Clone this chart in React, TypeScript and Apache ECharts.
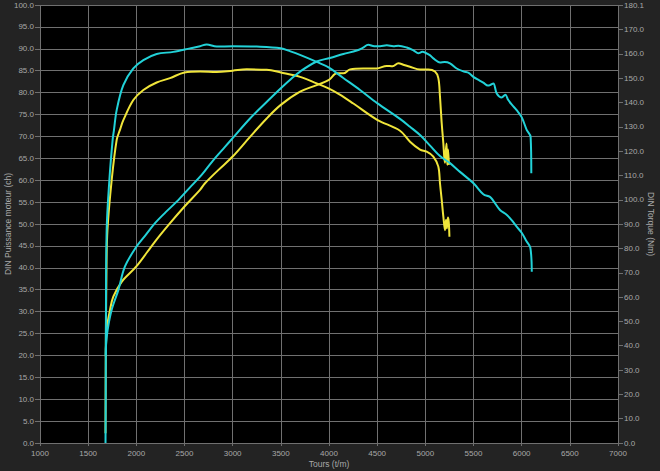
import React, { useEffect, useRef } from "react";
import * as echarts from "echarts";

// rpm values and readings (power in ch on left axis, torque in left-axis-equivalent units converted to Nm)
const cyanPower: [number, number][] = [
  [1682, 20], [1686, 22.5], [1702, 25.8], [1744, 30.4], [1813, 34.9], [1882, 40.3], [2000, 44.8],
  [2100, 47.6], [2194, 50.2], [2300, 52.6], [2419, 55.1], [2550, 58.2], [2678, 61.2],
  [2800, 64.6], [2920, 67.6], [3000, 69.6], [3180, 74.1], [3350, 77.8], [3500, 81],
  [3600, 83], [3700, 84.8], [3872, 87.1], [4010, 87.9], [4149, 88.8], [4288, 89.6],
  [4350, 90.2], [4408, 90.9], [4470, 90.6], [4530, 90.6], [4600, 90.8], [4668, 90.6],
  [4720, 90.7], [4807, 90.3], [4880, 89.6], [4927, 89.0], [4970, 89.3], [5000, 89.1],
  [5050, 88.5], [5083, 87.8], [5152, 86.9], [5200, 87.0], [5256, 86.7], [5325, 85.5],
  [5400, 84.8], [5450, 84.5], [5498, 83.6], [5560, 82.8], [5602, 82.3], [5650, 81.6],
  [5671, 81.7], [5706, 82.1], [5741, 79.8], [5793, 78.9], [5830, 79.5], [5861, 78.3],
  [5900, 77.2], [5948, 76.0], [6000, 74.4], [6052, 71.5], [6093, 69.9], [6100, 61.6]
];

const yellowPower: [number, number][] = [
  [1684, 19.7], [1692, 25.8], [1727, 30.4], [1761, 33.4], [1848, 36.8], [2000, 40.3],
  [2194, 46], [2350, 50.2], [2500, 54], [2661, 57.8], [2713, 59.3], [2850, 62.3],
  [3000, 65.4], [3180, 69.9], [3353, 74.1], [3500, 77.2], [3700, 80.2], [3872, 81.7],
  [4000, 82.9], [4080, 84.4], [4150, 84.4], [4218, 85.3], [4356, 85.5], [4495, 85.5],
  [4599, 86.1], [4660, 86.0], [4720, 86.7], [4780, 86.3], [4841, 85.9], [4945, 85.3],
  [5031, 85.3], [5100, 84.8], [5135, 83.3], [5152, 79.1], [5170, 73.0], [5187, 68.4],
  [5196, 65.4], [5204, 64.0], [5212, 66.5], [5220, 68.4], [5228, 63.5], [5236, 67.0],
  [5245, 63.5]
];

const cyanTorqueEq: [number, number][] = [
  [1680, 0], [1682, 10], [1684, 25.8], [1692, 48.6], [1720, 60], [1754, 69.2],
  [1768, 71.5], [1796, 76], [1865, 81.7], [1969, 85.5], [2073, 87.4], [2211, 88.8],
  [2384, 89.3], [2557, 90.1], [2661, 90.6], [2730, 91.0], [2834, 90.5], [3000, 90.6],
  [3250, 90.5], [3500, 90.1], [3600, 89.4], [3699, 88.6], [3872, 87], [4000, 85.7],
  [4145, 83.4], [4322, 80.6], [4500, 77.6], [4737, 74.0], [4841, 72.2], [4945, 70.3],
  [5049, 67.9], [5152, 65.5], [5256, 63.9], [5360, 61.9], [5500, 59.3], [5602, 56.8],
  [5671, 56.2], [5706, 55.3], [5775, 53.2], [5844, 52.1], [5896, 50.9], [5948, 49.4],
  [6000, 48.0], [6052, 46.0], [6090, 44.6], [6105, 39.1]
];

const yellowTorqueEq: [number, number][] = [
  [1680, 2.2], [1683, 20], [1690, 40], [1700, 48.6], [1744, 60], [1796, 69.2],
  [1830, 71.5], [1865, 73.7], [1969, 78.3], [2073, 80.6], [2211, 82.3], [2350, 83.3],
  [2500, 84.6], [2661, 84.8], [2834, 84.7], [3000, 85.0], [3146, 85.3], [3353, 85.2],
  [3500, 84.6], [3700, 83.6], [3872, 82.1], [4000, 80.9], [4108, 79.6], [4253, 77.5],
  [4500, 73.8], [4737, 71.3], [4841, 68.8], [4945, 67.0], [5014, 66.5], [5083, 65.4],
  [5135, 63.1], [5152, 59.3], [5170, 55.5], [5187, 51.7], [5204, 48.6], [5214, 50.9],
  [5224, 49.0], [5234, 51.5], [5243, 50.5], [5250, 47.1]
];

const NM_PER_UNIT = 180.1 / 100;
const toNm = (arr: [number, number][]) => arr.map(([r, v]) => [r, +(v * NM_PER_UNIT).toFixed(2)]);

const CYAN = "#22d2d8";
const YELLOW = "#f0e53a";
const LABEL = "#a8a8a8";
const GRIDLINE = "#707070";
const FONT = "Liberation Sans, Arial, sans-serif";

export default function App() {
  const ref = useRef<HTMLDivElement>(null);
  useEffect(() => {
    if (!ref.current) return;
    const chart = echarts.init(ref.current, null, { renderer: "svg" });
    const lineBase = {
      type: "line" as const,
      showSymbol: false,
      smooth: 0.35,
      lineStyle: { width: 2 },
    };
    chart.setOption({
      animation: false,
      backgroundColor: "#232323",
      grid: {
        left: 40, right: 42, top: 5, bottom: 28,
        containLabel: false,
        outerBoundsMode: "none",
        show: true, backgroundColor: "#000", borderWidth: 0,
      },
      xAxis: {
        type: "value", min: 1000, max: 7000, interval: 500,
        name: "Tours (t/m)", nameLocation: "middle", nameGap: 16, nameMoveOverlap: false,
        nameTextStyle: { color: LABEL, fontSize: 8.5, fontFamily: FONT },
        axisLine: { show: false },
        axisTick: { show: true, length: 3, lineStyle: { color: GRIDLINE } },
        axisLabel: {
          color: LABEL, fontSize: 8, margin: 6, fontFamily: FONT,
          formatter: (v: number) => String(v),
        },
        splitLine: { show: true, lineStyle: { color: GRIDLINE, width: 1 } },
      },
      yAxis: [
        {
          type: "value", min: 0, max: 100, interval: 5, position: "left",
          name: "DIN Puissance moteur (ch)", nameLocation: "middle", nameGap: 28, nameRotate: 90,
          nameMoveOverlap: false,
          nameTextStyle: { color: LABEL, fontSize: 8.5, fontFamily: FONT },
          axisLine: { show: false },
          axisTick: { show: true, length: 5, lineStyle: { color: GRIDLINE } },
          axisLabel: {
            color: LABEL, fontSize: 8, margin: 6, fontFamily: FONT,
            formatter: (v: number) => v.toFixed(1),
          },
          splitLine: { show: true, lineStyle: { color: GRIDLINE, width: 1 } },
        },
        {
          type: "value", min: 0, max: 180.1, interval: 10, position: "right",
          name: "DIN Torque (Nm)", nameLocation: "middle", nameGap: 28, nameRotate: -90,
          nameMoveOverlap: false,
          nameTextStyle: { color: LABEL, fontSize: 8.5, fontFamily: FONT },
          axisLine: { show: false },
          axisTick: { show: true, length: 5, lineStyle: { color: GRIDLINE } },
          axisLabel: {
            color: LABEL, fontSize: 8, margin: 6, fontFamily: FONT,
            showMaxLabel: true,
            formatter: (v: number) => (Math.abs(v - 180) < 1e-9 ? "" : v.toFixed(1)),
          },
          splitLine: { show: false },
        },
      ],
      series: [
        { ...lineBase, name: "Puissance 2", yAxisIndex: 0, data: yellowPower, lineStyle: { width: 2, color: YELLOW }, itemStyle: { color: YELLOW } },
        { ...lineBase, name: "Torque 2", yAxisIndex: 1, data: toNm(yellowTorqueEq), lineStyle: { width: 2, color: YELLOW }, itemStyle: { color: YELLOW } },
        { ...lineBase, name: "Puissance 1", yAxisIndex: 0, data: cyanPower, lineStyle: { width: 2, color: CYAN }, itemStyle: { color: CYAN } },
        { ...lineBase, name: "Torque 1", yAxisIndex: 1, data: toNm(cyanTorqueEq), lineStyle: { width: 2, color: CYAN }, itemStyle: { color: CYAN } },
      ],
    });
    return () => chart.dispose();
  }, []);
  return (
    <div
      ref={ref}
      style={{ position: "fixed", left: 0, top: 0, width: 660, height: 471 }}
    />
  );
}
